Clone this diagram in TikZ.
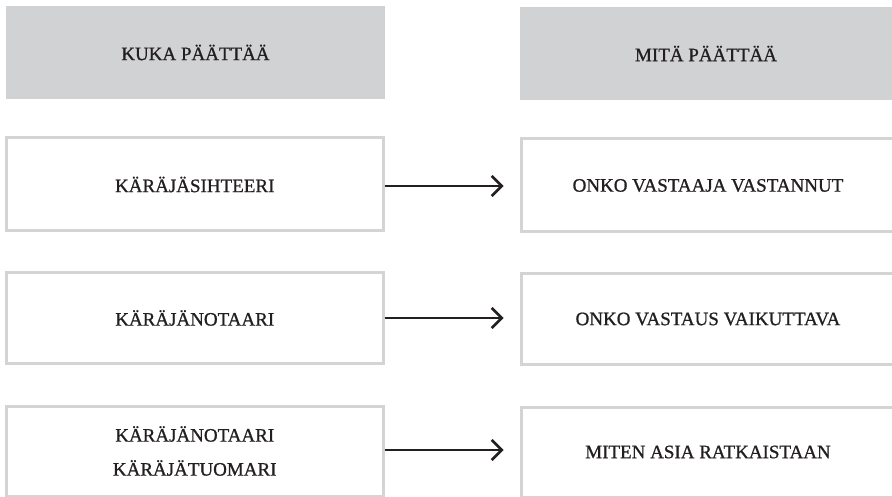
\documentclass[tikz,border=0pt]{standalone}
\usepackage{fontspec}
\setmainfont{Liberation Serif}[FakeBold=0.9]
\usetikzlibrary{arrows.meta}
\definecolor{hdr}{HTML}{D1D2D4}
\definecolor{bord}{HTML}{D4D4D4}
\definecolor{ink}{HTML}{231F20}
\begin{document}
\begin{tikzpicture}[x=1pt,y=-1pt,
  hdrbox/.style={fill=hdr,draw=none,inner sep=0pt,text=ink,font=\fontsize{19}{22}\selectfont},
  cellbox/.style={draw=bord,line width=3pt,fill=white,inner sep=0pt,align=center,text=ink,font=\fontsize{19}{34}\selectfont},
  arr/.style={draw=ink,line width=2.6pt,-{Straight Barb[length=10pt,width=20pt,line width=2.6pt]}}]
\useasboundingbox (0,0) rectangle (892,497);
\node[hdrbox,minimum width=379pt,minimum height=93pt] (h1) at (195.5,52.5) {KUKA PÄÄTTÄÄ};
\node[hdrbox,minimum width=372pt,minimum height=93pt] (h2) at (706,53.5) {MITÄ PÄÄTTÄÄ};
\node[cellbox,minimum width=376.5pt,minimum height=93pt] (l1) at (194.75,184.5) {KÄRÄJÄSIHTEERI};
\node[cellbox,minimum width=374pt,minimum height=93pt] (r1) at (708,185.5) {ONKO VASTAAJA VASTANNUT};
\node[cellbox,minimum width=376.5pt,minimum height=90pt] (l2) at (194.75,318) {KÄRÄJÄNOTAARI};
\node[cellbox,minimum width=374pt,minimum height=90pt] (r2) at (708,319) {ONKO VASTAUS VAIKUTTAVA};
\node[cellbox,minimum width=376.5pt,minimum height=90pt] (l3) at (194.75,451) {KÄRÄJÄNOTAARI\\KÄRÄJÄTUOMARI};
\node[cellbox,minimum width=374pt,minimum height=90pt] (r3) at (708,452) {MITEN ASIA RATKAISTAAN};
\draw[arr] (l1.east |- 0,186) -- ([xshift=-16pt]r1.west |- 0,186);
\draw[arr] (l2.east |- 0,318) -- ([xshift=-16pt]r2.west |- 0,318);
\draw[arr] (l3.east |- 0,450) -- ([xshift=-16pt]r3.west |- 0,450);
\end{tikzpicture}
\end{document}
